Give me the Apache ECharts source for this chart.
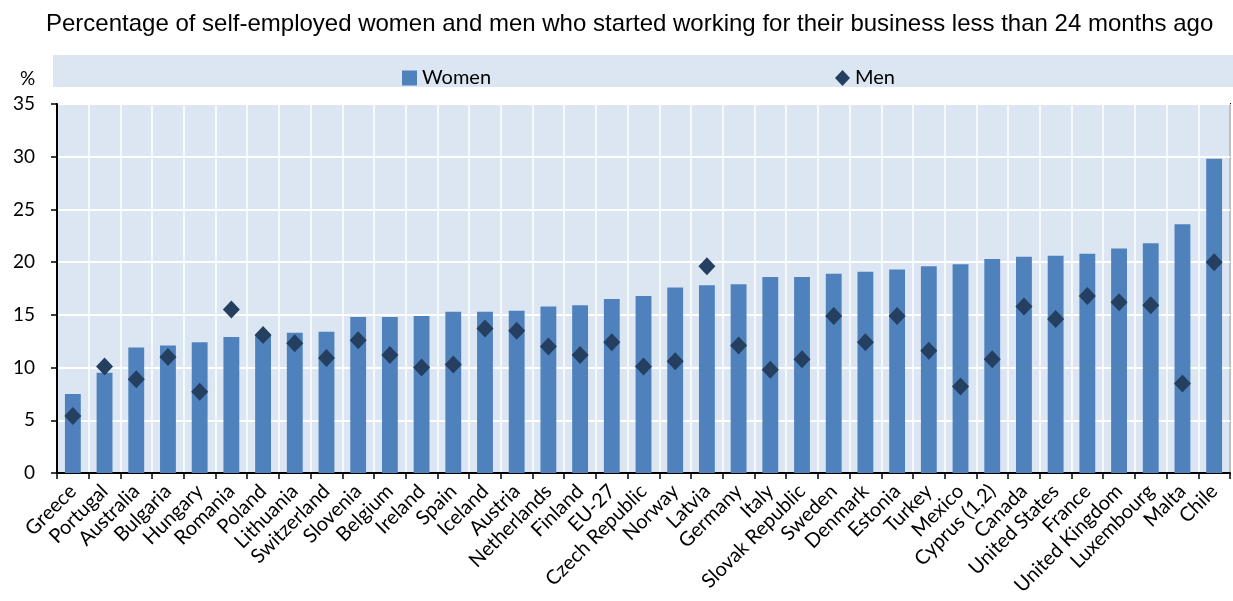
<!DOCTYPE html>
<html><head><meta charset="utf-8">
<script src="https://cdn.jsdelivr.net/npm/echarts@6/dist/echarts.min.js"></script>
<style>html,body{margin:0;padding:0;background:#fff}#c{width:1233px;height:601px}</style>
</head><body><div id="c"></div>
<script>
const categories = ["Greece","Portugal","Australia","Bulgaria","Hungary","Romania","Poland","Lithuania","Switzerland","Slovenia","Belgium","Ireland","Spain","Iceland","Austria","Netherlands","Finland","EU-27","Czech Republic","Norway","Latvia","Germany","Italy","Slovak Republic","Sweden","Denmark","Estonia","Turkey","Mexico","Cyprus (1,2)","Canada","United States","France","United Kingdom","Luxembourg","Malta","Chile"];
const women = [7.5,9.5,11.9,12.1,12.4,12.9,13.1,13.3,13.4,14.8,14.8,14.9,15.3,15.3,15.4,15.8,15.9,16.5,16.8,17.6,17.8,17.9,18.6,18.6,18.9,19.1,19.3,19.6,19.8,20.3,20.5,20.6,20.8,21.3,21.8,23.6,29.8];
const men = [5.4,10.1,8.9,11.0,7.7,15.5,13.1,12.3,10.9,12.6,11.2,10.0,10.3,13.7,13.5,12.0,11.2,12.4,10.1,10.6,19.6,12.1,9.8,10.8,14.9,12.4,14.9,11.6,8.2,10.8,15.8,14.6,16.8,16.2,15.9,8.5,20.0];
const yTicks = {min:0, max:35, interval:5};
const titleText = "Percentage of self-employed women and men who started working for their business less than 24 months ago";

const chart = echarts.init(document.getElementById('c'), null, {renderer:'canvas'});
chart.setOption({
  animation:false,
  title:{text:titleText,left:41,top:7,textStyle:{fontFamily:'Liberation Sans',fontSize:24,fontWeight:'normal',color:'#000'}},
  graphic:[
    {type:'rect',left:53,top:55,shape:{width:1180,height:32},style:{fill:'#dce6f2'},z:-1},
    {type:'text',left:20,top:69,style:{text:'%',fontFamily:'Lato',fontSize:19,fill:'#000'}}
  ],
  legend:[
    {left:397,top:63,itemWidth:15,itemHeight:15,itemGap:6,
     textStyle:{fontFamily:'Lato',fontSize:20,color:'#000'},
     data:[{name:'Women',icon:'rect'}]},
    {left:830,top:63,itemWidth:15,itemHeight:16,
     textStyle:{fontFamily:'Lato',fontSize:20,color:'#000'},
     data:[{name:'Men',icon:'diamond'}]}
  ],
  grid:{left:57,right:3,top:104,bottom:128,show:true,backgroundColor:'#dce6f2',borderColor:'#000',borderWidth:2},
  xAxis:{type:'category',data:categories,boundaryGap:true,
    axisLine:{lineStyle:{color:'#000',width:2}},
    axisTick:{show:true,alignWithLabel:false,length:6,lineStyle:{color:'#000',width:1.5}},
    splitLine:{show:true,lineStyle:{color:'#fff',width:1.5}},
    axisLabel:{interval:0,rotate:45,fontFamily:'Lato',fontSize:20,color:'#000',margin:15}},
  yAxis:{type:'value',min:yTicks.min,max:yTicks.max,interval:yTicks.interval,
    axisLine:{show:true,lineStyle:{color:'#000',width:2}},
    axisTick:{show:true,length:6,lineStyle:{color:'#000',width:1.5}},
    splitLine:{show:true,lineStyle:{color:'#fff',width:2}},
    axisLabel:{fontFamily:'Lato',fontSize:19,color:'#000',margin:22}},
  series:[
    {name:'Women',type:'bar',data:women,barWidth:'50%',itemStyle:{color:'#4f81bd'}},
    {name:'Men',type:'scatter',data:men,symbol:'diamond',symbolSize:[17,18],itemStyle:{color:'#243f60',opacity:1},z:5}
  ]
});
</script></body></html>
